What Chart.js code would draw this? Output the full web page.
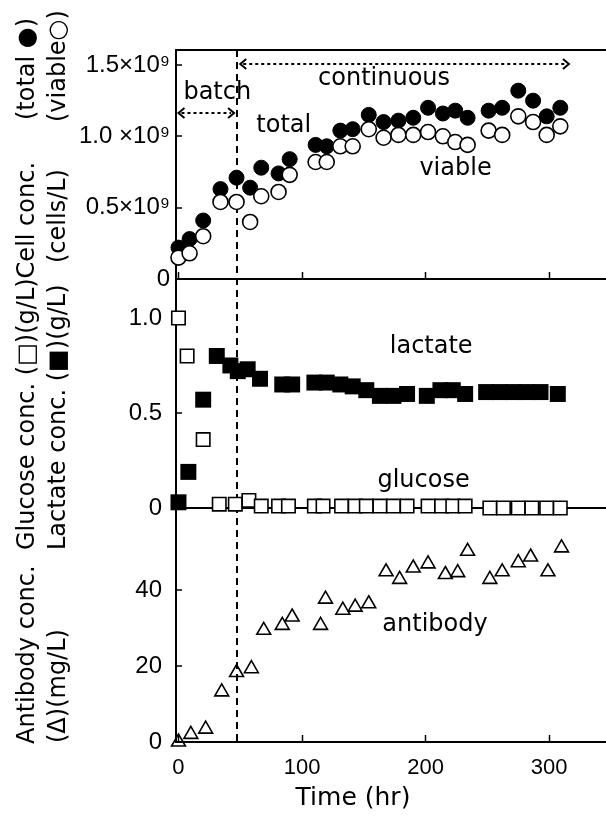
<!DOCTYPE html>
<html>
<head>
<meta charset="utf-8">
<script src="https://cdn.jsdelivr.net/npm/chart.js@4.4.1/dist/chart.umd.min.js"></script>
<style>
  html, body { margin: 0; padding: 0; background: #fff; }
  canvas { display: block; }
</style>
</head>
<body>
<canvas id="culture-chart" width="606" height="822"></canvas>
<script>
// cell counts, 10^9 cells/L
const cellTimes = [0, 9, 20, 34, 47, 58, 67, 81, 90, 111, 120, 131, 141, 154, 166, 178, 190, 202, 214, 224, 234, 251, 262, 275, 287, 298, 309];
const totalCells = [0.22, 0.28, 0.41, 0.63, 0.71, 0.64, 0.78, 0.74, 0.84, 0.94, 0.93, 1.04, 1.05, 1.15, 1.10, 1.11, 1.13, 1.20, 1.16, 1.18, 1.13, 1.18, 1.20, 1.32, 1.25, 1.14, 1.20];
const viableCells = [0.15, 0.18, 0.30, 0.54, 0.54, 0.40, 0.58, 0.61, 0.73, 0.82, 0.82, 0.93, 0.93, 1.05, 0.99, 1.01, 1.01, 1.03, 1.00, 0.96, 0.94, 1.04, 1.01, 1.14, 1.10, 1.01, 1.07];

// glucose and lactate, g/L
const glucoseTimes = [0, 7, 20, 33, 46, 57, 67, 81, 89, 110, 117, 132, 143, 152, 163, 174, 185, 202, 213, 222, 232, 252, 263, 275, 286, 298, 309];
const glucoseConc = [1.00, 0.80, 0.36, 0.02, 0.02, 0.04, 0.01, 0.01, 0.01, 0.01, 0.01, 0.01, 0.01, 0.01, 0.01, 0.01, 0.01, 0.01, 0.01, 0.01, 0.01, 0, 0, 0, 0, 0, 0];
const lactateTimes = [0, 8, 20, 31, 42, 48, 56, 66, 84, 92, 110, 120, 131, 141, 152, 163, 174, 185, 201, 212, 222, 232, 249, 260, 271, 282, 293, 307];
const lactateConc = [0.03, 0.19, 0.57, 0.80, 0.75, 0.72, 0.73, 0.68, 0.65, 0.65, 0.66, 0.66, 0.65, 0.64, 0.62, 0.59, 0.59, 0.60, 0.59, 0.62, 0.62, 0.60, 0.61, 0.61, 0.61, 0.61, 0.61, 0.60];

// antibody, mg/L
const antibodyTimes = [0, 10, 22, 35, 47, 59, 69, 84, 92, 115, 119, 133, 143, 154, 168, 179, 190, 202, 216, 226, 234, 252, 262, 275, 285, 299, 310];
const antibodyConc = [0, 2.0, 3.4, 13.2, 18.3, 19.3, 29.4, 30.7, 32.9, 30.7, 37.6, 34.7, 35.5, 36.4, 44.8, 42.8, 45.8, 46.9, 44.1, 44.6, 50.2, 42.8, 44.8, 47.2, 48.7, 44.8, 51.1];

const timeTicks = [0, 100, 200, 300];
const cellTicks = [0, 0.5, 1.0, 1.5];
const cellTickLabels = ['0', '0.5×10⁹', '1.0 ×10⁹', '1.5×10⁹'];
const sugarTicks = [0, 0.5, 1.0];
const sugarTickLabels = ['0', '0.5', '1.0'];
const antibodyTicks = [0, 20, 40];
const antibodyTickLabels = ['0', '20', '40'];

const batchEnd = 47;      // hr, feed switched on
const timeMin = -2, timeMax = 346;
const cellMax = 1.605, sugarMax = 1.205, antibodyMax = 61.6;

const pairs = (ts, vs) => ts.map((t, i) => ({ x: t, y: vs[i] }));

function panelAxis(ticks, labels, max, weight, pad, frameTop) {
  const vals = frameTop ? ticks.concat([max]) : ticks;
  return {
    type: 'linear',
    position: 'left',
    stack: 'panels',
    stackWeight: weight,
    min: 0,
    max: max,
    afterBuildTicks: s => { s.ticks = vals.map(v => ({ value: v })); },
    afterFit: s => { s.width = 176; },
    border: { color: '#000', width: 2 },
    grid: {
      color: c => (c.tick && (c.tick.value === 0 || (frameTop && c.tick.value === max))) ? '#000' : 'rgba(0,0,0,0)',
      lineWidth: 2,
      tickColor: c => (c.tick && c.tick.value === max) ? 'rgba(0,0,0,0)' : '#000',
      tickLength: -6,
      tickWidth: 1.5,
    },
    ticks: {
      color: '#000',
      padding: pad,
      font: { family: '"Liberation Sans"', size: 24 },
      callback: (v, i) => labels[i] || '',
    },
  };
}

// text drawn straight onto the plot: axis titles, notes, batch/continuous arrows
const yTitles = [
  { text: 'Antibody conc.', x: 34, y: 744 },
  { text: 'Glucose conc. (□)(g/L)Cell conc.', x: 34, y: 550 },
  { text: '(total ●)', x: 34, y: 120 },
  { text: '(Δ)(mg/L)', x: 65, y: 743 },
  { text: 'Lactate conc. (■)(g/L)', x: 65, y: 550 },
  { text: '(cells/L)', x: 65, y: 263 },
  { text: '(viable○)', x: 65, y: 122 },
];

const notes = [
  { text: 'batch', t: 4, axis: 'yCell', v: 1.26 },
  { text: 'continuous', t: 113, axis: 'yCell', v: 1.36 },
  { text: 'total', t: 63, axis: 'yCell', v: 1.03 },
  { text: 'viable', t: 195, axis: 'yCell', v: 0.73 },
  { text: 'lactate', t: 171, axis: 'ySugar', v: 0.816 },
  { text: 'glucose', t: 161, axis: 'ySugar', v: 0.11 },
  { text: 'antibody', t: 165, axis: 'yAb', v: 29.2 },
];

function dottedArrow(ctx, x1, x2, y) {
  ctx.save();
  ctx.strokeStyle = '#000';
  ctx.lineWidth = 2;
  ctx.setLineDash([3, 3]);
  ctx.beginPath();
  ctx.moveTo(x1 + 3, y);
  ctx.lineTo(x2 - 3, y);
  ctx.stroke();
  ctx.setLineDash([]);
  ctx.beginPath();
  ctx.moveTo(x1 + 6, y - 5); ctx.lineTo(x1, y); ctx.lineTo(x1 + 6, y + 5);
  ctx.moveTo(x2 - 6, y - 5); ctx.lineTo(x2, y); ctx.lineTo(x2 - 6, y + 5);
  ctx.stroke();
  ctx.restore();
}

const annotations = {
  id: 'annotations',
  beforeDatasetsDraw(chart) {
    const { ctx, chartArea, scales } = chart;
    const x = Math.round(scales.x.getPixelForValue(batchEnd));
    ctx.save();
    ctx.strokeStyle = '#000';
    ctx.lineWidth = 2;
    ctx.setLineDash([7, 5]);
    ctx.beginPath();
    ctx.moveTo(x, chartArea.top);
    ctx.lineTo(x, chartArea.bottom);
    ctx.stroke();
    ctx.restore();
  },
  afterDraw(chart) {
    const { ctx, scales } = chart;
    const xs = scales.x, yc = scales.yCell;

    dottedArrow(ctx, xs.getPixelForValue(0), xs.getPixelForValue(45), yc.getPixelForValue(1.163));
    dottedArrow(ctx, xs.getPixelForValue(50), xs.getPixelForValue(316), yc.getPixelForValue(1.507));

    ctx.save();
    ctx.fillStyle = '#000';
    ctx.font = '24px "DejaVu Sans"';
    ctx.textAlign = 'left';
    ctx.textBaseline = 'alphabetic';
    notes.forEach(n => {
      ctx.fillText(n.text, xs.getPixelForValue(n.t), scales[n.axis].getPixelForValue(n.v));
    });

    ctx.font = '25px "DejaVu Sans"';
    ctx.textAlign = 'center';
    ctx.fillText('Time (hr)', 353, 805);

    ctx.font = '24px "DejaVu Sans"';
    ctx.textAlign = 'left';
    yTitles.forEach(tl => {
      ctx.save();
      ctx.translate(tl.x, tl.y);
      ctx.rotate(-Math.PI / 2);
      ctx.fillText(tl.text, 0, 0);
      ctx.restore();
    });
    ctx.restore();
  },
};

new Chart(document.getElementById('culture-chart'), {
  type: 'scatter',
  data: {
    datasets: [
      {
        label: 'viable', data: pairs(cellTimes, viableCells), yAxisID: 'yCell', order: 0,
        pointStyle: 'circle', pointRadius: 7.5, backgroundColor: '#fff', borderColor: '#000', borderWidth: 1.6, clip: false,
      },
      {
        label: 'total', data: pairs(cellTimes, totalCells), yAxisID: 'yCell', order: 1,
        pointStyle: 'circle', pointRadius: 7.5, backgroundColor: '#000', borderColor: '#000', borderWidth: 1, clip: false,
      },
      {
        label: 'glucose', data: pairs(glucoseTimes, glucoseConc), yAxisID: 'ySugar', order: 2,
        pointStyle: 'rect', pointRadius: 9.5, backgroundColor: '#fff', borderColor: '#000', borderWidth: 1.6, clip: false,
      },
      {
        label: 'lactate', data: pairs(lactateTimes, lactateConc), yAxisID: 'ySugar', order: 3,
        pointStyle: 'rect', pointRadius: 11.3, backgroundColor: '#000', borderColor: '#000', borderWidth: 0, clip: false,
      },
      {
        label: 'antibody', data: pairs(antibodyTimes, antibodyConc), yAxisID: 'yAb', order: 4,
        pointStyle: 'triangle', pointRadius: 8, backgroundColor: 'rgba(255,255,255,0)', borderColor: '#000', borderWidth: 1.6, clip: false,
      },
    ],
  },
  options: {
    responsive: false,
    devicePixelRatio: 1,
    animation: false,
    events: [],
    // point radius must not shrink the plot; panel lines run to the right edge
    layout: { autoPadding: false, padding: { top: 50, right: 0, bottom: 0, left: 0 } },
    plugins: { legend: { display: false }, tooltip: { enabled: false } },
    scales: {
      x: {
        type: 'linear',
        position: 'bottom',
        min: timeMin,
        max: timeMax,
        afterBuildTicks: s => { s.ticks = timeTicks.map(v => ({ value: v })); },
        afterFit: s => { s.height = 80; },
        border: { color: '#000', width: 2 },
        grid: { drawOnChartArea: false, color: 'rgba(0,0,0,0)', tickColor: '#000', tickLength: -7, tickWidth: 1.5 },
        ticks: { color: '#000', padding: 20, font: { family: '"Liberation Sans"', size: 22 } },
      },
      // tick marks along the baseline of the cell panel
      xCellBase: {
        type: 'linear',
        axis: 'x',
        position: { yCell: 0 },
        min: timeMin,
        max: timeMax,
        afterBuildTicks: s => { s.ticks = timeTicks.map(v => ({ value: v })); },
        border: { display: false },
        grid: { drawOnChartArea: false, color: 'rgba(0,0,0,0)', tickColor: '#000', tickLength: -7, tickWidth: 1.5 },
        ticks: { display: false },
      },
      yAb: panelAxis(antibodyTicks, antibodyTickLabels, antibodyMax, 234, 20, false),
      ySugar: panelAxis(sugarTicks, sugarTickLabels, sugarMax, 229, 20, false),
      yCell: panelAxis(cellTicks, cellTickLabels, cellMax, 229, 12, true),
    },
  },
  plugins: [annotations],
});
</script>
</body>
</html>
